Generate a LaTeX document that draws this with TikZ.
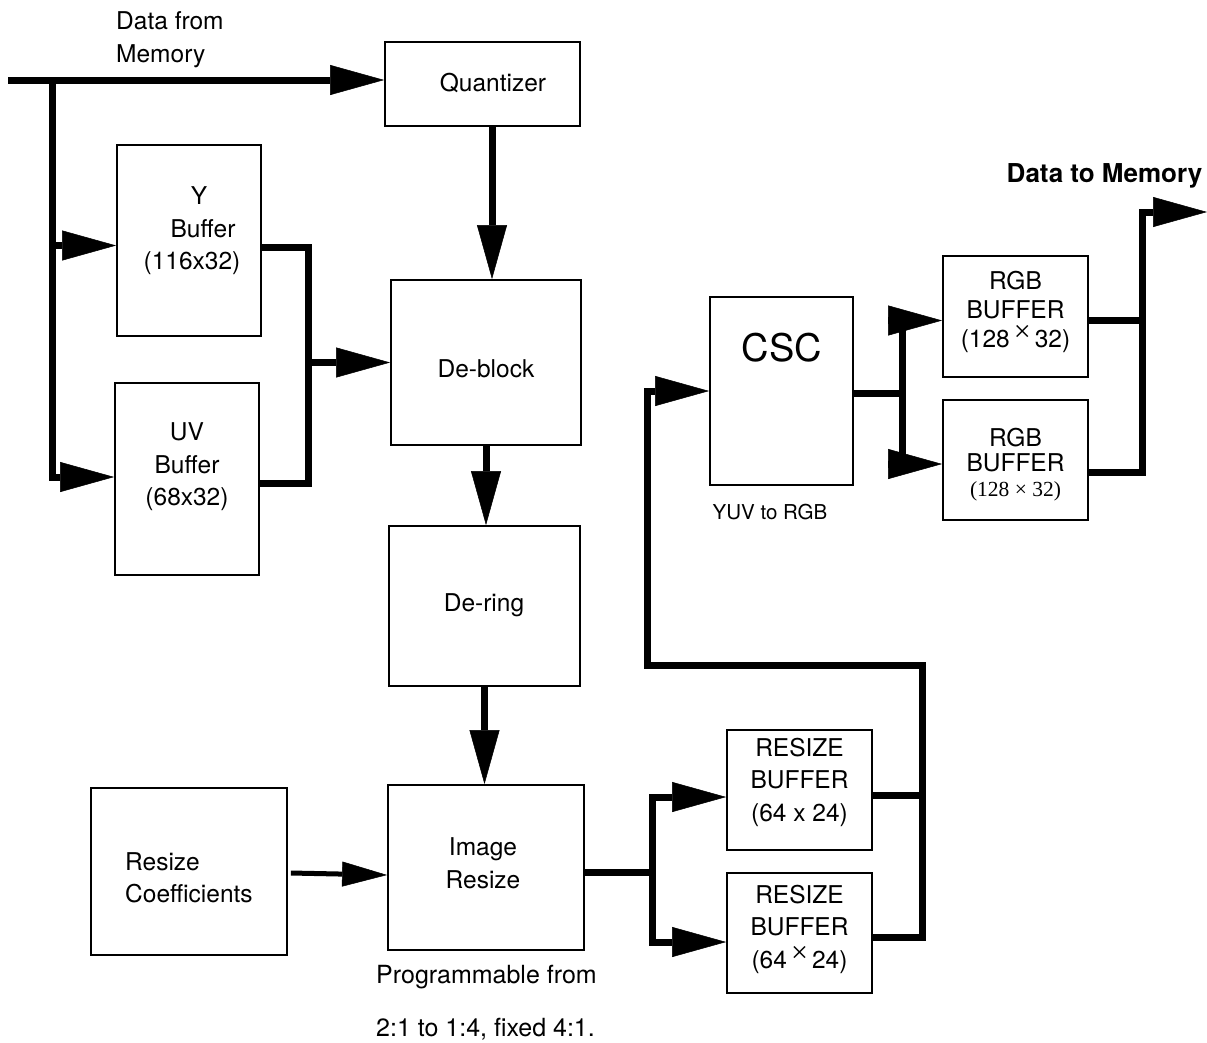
\documentclass[tikz,border=0pt]{standalone}
\usepackage{fontspec}
\setmainfont{TeX Gyre Heros}
\newfontfamily\serifx{Liberation Serif}
\usetikzlibrary{arrows.meta,calc}
\newcommand{\bigtimes}{\raisebox{6pt}{\serifx\fontsize{30}{30}\selectfont ×}}
\begin{document}
\begin{tikzpicture}[x=1pt,y=-1pt,
  box/.style={draw,line width=1.8pt,inner sep=0pt},
  txt/.style={inner sep=0pt,align=center,font=\fontsize{24.5}{32.5}\selectfont},
  wire/.style={line width=7pt},
  arr/.style={line width=7pt,-{Triangle[length=54pt,width=30pt,line width=0.5pt]}},
  smallarr/.style={line width=5pt,-{Triangle[length=45pt,width=25pt,line width=0.5pt]}},
]
\useasboundingbox (0,0) rectangle (1207,1042);

% boxes
\node[box,minimum width=195pt,minimum height=84pt]  (quant)   at (482.5,84) {};
\node[box,minimum width=144pt,minimum height=191pt] (ybuf)    at (189,240.5) {};
\node[box,minimum width=144pt,minimum height=192pt] (uvbuf)   at (187,479) {};
\node[box,minimum width=190pt,minimum height=165pt] (deblock) at (486,362.5) {};
\node[box,minimum width=191pt,minimum height=160pt] (dering)  at (484.5,606) {};
\node[box,minimum width=196pt,minimum height=165pt] (resize)  at (486,867.5) {};
\node[box,minimum width=196pt,minimum height=167pt] (coeff)   at (189,871.5) {};
\node[box,minimum width=143pt,minimum height=188pt] (csc)     at (781.5,391) {};
\node[box,minimum width=145pt,minimum height=121pt] (rgb1)    at (1015.5,316.5) {};
\node[box,minimum width=145pt,minimum height=120pt] (rgb2)    at (1015.5,460) {};
\node[box,minimum width=145pt,minimum height=120pt] (rb1)     at (799.5,790) {};
\node[box,minimum width=145pt,minimum height=120pt] (rb2)     at (799.5,933) {};

% texts
\node[txt,align=left,anchor=west,font=\fontsize{24.5}{33}\selectfont] (dfm) at (116,40) {Data from\\Memory};
\node[txt,anchor=base] (quantT) at (493,91.5) {Quantizer};
\node[txt] (ybT) at (192,231) {\hspace*{14pt}Y\\\hspace*{22pt}Buffer\\(116x32)};
\node[txt] (uvT) at (187,467) {UV\\Buffer\\(68x32)};
\node[txt,anchor=base] (dbT) at (486,377.5) {De-block};
\node[txt,anchor=base] (drT) at (484,611.5) {De-ring};
\node[txt] (irT) at (483,863) {Image\\Resize};
\node[txt,align=left,anchor=west] (rcT) at (125,878) {Resize\\Coefficients};
\node[txt,anchor=base,font=\fontsize{38}{40}\selectfont] (cscT) at (782,361.5) {CSC};
\node[txt,anchor=base,font=\fontsize{20.5}{24}\selectfont] (yuvT) at (770,519) {YUV to RGB};
\node[txt,anchor=base,font=\fontsize{26}{30}\selectfont\bfseries] (dtm) at (1104.5,182) {Data to Memory};
\node[txt,font=\fontsize{24.5}{29}\selectfont] (rgb1T) at (1015.5,312) {RGB\\BUFFER\\(128\,\bigtimes\,32)};
\node[txt,font=\fontsize{24.5}{25}\selectfont] (rgb2T) at (1015.5,465) {RGB\\BUFFER\\{\serifx\fontsize{21.5}{25}\selectfont (128 × 32)}};
\node[txt] (rb1T) at (799.5,782) {RESIZE\\BUFFER\\(64 x 24)};
\node[txt] (rb2T) at (799.5,929) {RESIZE\\BUFFER\\(64\,\bigtimes\,24)};
\node[txt,anchor=base west,font=\fontsize{25}{30}\selectfont] (prog1) at (376,983) {Programmable from};
\node[txt,anchor=base west,font=\fontsize{25}{30}\selectfont] (prog2) at (376,1036) {2:1 to 1:4, fixed 4:1.};

% input
\coordinate (src) at (8,80);
\coordinate (j1) at (52,80);
\draw[arr] (src) -- (src -| quant.west);
\coordinate (ybIn) at ($(ybuf.west)+(0,5)$);
\coordinate (uvIn) at ($(uvbuf.west)+(0,-2)$);
\draw[arr] (j1) |- (uvIn);
\draw[arr] (j1 |- ybIn) -- (ybIn);

% Y / UV to de-block
\coordinate (mx) at (308,0);
\coordinate (ybOut) at ($(ybuf.east)+(0,7)$);
\coordinate (uvOut) at ($(uvbuf.east)+(0,4)$);
\draw[wire] (ybOut) -| (mx |- uvOut) -- (uvOut);
\draw[arr] (mx |- deblock.west) -- (deblock.west);

% pipeline
\coordinate (qx) at (492,0);
\draw[arr] (quant.south -| qx) -- (deblock.north -| qx);
\draw[arr] (deblock.south) -- (deblock.south |- dering.north);
\draw[arr] (dering.south) -- (dering.south |- resize.north);
\coordinate (rcOut) at ($(coeff.east)+(3,1.5)$);
\coordinate (rsIn) at ($(resize.west)+(0,7.5)$);
\draw[smallarr] (rcOut) -- (rsIn);

% resize to buffers
\coordinate (rx) at (652,0);
\coordinate (rsOut) at ($(resize.east)+(0,4.5)$);
\coordinate (rb1In) at ($(rb1.west)+(0,7)$);
\coordinate (rb2In) at ($(rb2.west)+(0,9)$);
\draw[wire] (rsOut) -- (rx |- rsOut);
\draw[arr] (rx |- rsOut) |- (rb1In);
\draw[arr] (rx |- rsOut) |- (rb2In);

% buffers back to CSC
\coordinate (ox) at (922,0);
\coordinate (loopY) at (0,665);
\coordinate (lx) at (647,0);
\coordinate (rb1Out) at ($(rb1.east)+(0,5)$);
\coordinate (rb2Out) at ($(rb2.east)+(0,4)$);
\draw[wire] (rb1Out) -- (ox |- rb1Out);
\draw[arr] (rb2Out) -| (ox |- loopY) -| (lx |- csc.west) -- (csc.west);

% CSC to RGB buffers
\coordinate (cx) at (902.5,0);
\coordinate (cscOut) at ($(csc.east)+(0,2)$);
\coordinate (g1In) at ($(rgb1.west)+(0,4)$);
\coordinate (g2In) at ($(rgb2.west)+(0,4)$);
\draw[wire] (cscOut) -- (cx |- cscOut);
\draw[arr] (cx |- cscOut) |- (g1In);
\draw[arr] (cx |- cscOut) |- (g2In);

% RGB buffers to memory
\coordinate (gx) at (1142,0);
\coordinate (dst) at (1207,212);
\coordinate (g1Out) at ($(rgb1.east)+(0,4)$);
\coordinate (g2Out) at ($(rgb2.east)+(0,12.5)$);
\draw[wire] (g1Out) -- (gx |- g1Out);
\draw[arr] (g2Out) -| (gx |- dst) -- (dst);
\end{tikzpicture}
\end{document}
